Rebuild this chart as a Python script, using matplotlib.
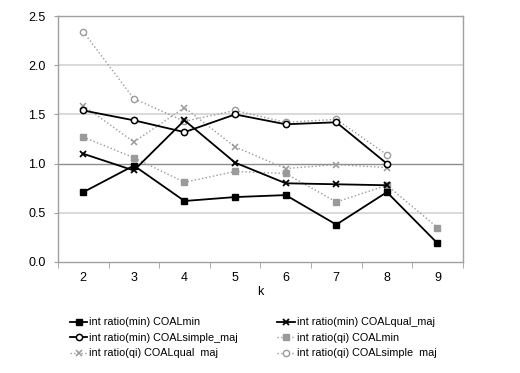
import matplotlib.pyplot as plt
import numpy as np

plt.rcParams['font.family'] = ['Liberation Sans', 'DejaVu Sans']

# --- Data ---
k_values = [2, 3, 4, 5, 6, 7, 8, 9]
min_coalmin = [0.71, 0.98, 0.62, 0.66, 0.68, 0.38, 0.71, 0.19]
min_coalqual_maj = [1.10, 0.93, 1.44, 1.01, 0.80, 0.79, 0.78, np.nan]
min_coalsimple_maj = [1.54, 1.44, 1.32, 1.50, 1.40, 1.42, 1.00, np.nan]
qi_coalmin = [1.27, 1.06, 0.81, 0.92, 0.90, 0.61, 0.78, 0.35]
qi_coalqual_maj = [1.59, 1.22, 1.57, 1.17, 0.95, 0.99, 0.96, np.nan]
qi_coalsimple_maj = [2.34, 1.66, 1.43, 1.54, 1.42, 1.45, 1.09, np.nan]
y_ticks = [0.0, 0.5, 1.0, 1.5, 2.0, 2.5]

fig = plt.figure(figsize=(5.2, 3.73), dpi=100)
ax = fig.add_axes([0.1115, 0.2976, 0.7785, 0.6594])

x = np.arange(len(k_values))
gray = '#9a9a9a'

# gridlines
for yv in y_ticks[1:-1]:
    ax.axhline(yv, color='#8c8c8c' if yv == 1.0 else '#d0d0d0',
               linewidth=1.0 if yv == 1.0 else 1.1, zorder=0)

# --- Series ---
ax.plot(x, min_coalmin, '-', color='black', lw=1.3, marker='s', ms=4.5,
        label='int ratio(min) COALmin', zorder=3)
ax.plot(x, min_coalqual_maj, '-', color='black', lw=1.3, marker='x', ms=5,
        mew=1.3, label='int ratio(min) COALqual_maj', zorder=3)
ax.plot(x, min_coalsimple_maj, '-', color='black', lw=1.3, marker='o', ms=4.5,
        mfc='white', mew=1.1, label='int ratio(min) COALsimple_maj', zorder=3)
ax.plot(x, qi_coalmin, ':', color=gray, lw=1.0, marker='s', ms=4.5,
        label='int ratio(qi) COALmin', zorder=2)
ax.plot(x, qi_coalqual_maj, ':', color=gray, lw=1.0, marker='x', ms=5,
        mew=1.1, label='int ratio(qi) COALqual  maj', zorder=2)
ax.plot(x, qi_coalsimple_maj, ':', color=gray, lw=1.0, marker='o', ms=4.5,
        mfc='white', mew=1.0, label='int ratio(qi) COALsimple  maj', zorder=2)

# --- Formatting ---
ax.set_xlim(-0.5, len(k_values) - 0.5)
ax.set_ylim(0, 2.5)
ax.set_yticks(y_ticks)
ax.set_yticklabels([f'{v:.1f}' for v in y_ticks], fontsize=9)
ax.set_xticks(x)
ax.set_xticklabels([str(v) for v in k_values], fontsize=9)
ax.set_xticks(np.arange(len(k_values) + 1) - 0.5, minor=True)
ax.tick_params(axis='x', which='major', length=0, pad=7)
ax.tick_params(axis='x', which='minor', length=4, color='#a0a0a0')
ax.tick_params(axis='y', length=3, color='#a0a0a0', pad=6)
for s in ax.spines.values():
    s.set_color('#a0a0a0')
    s.set_linewidth(1.0)
ax.set_xlabel('k', fontsize=9, labelpad=2)

# legend reads row by row in the reference
handles, labels = ax.get_legend_handles_labels()
order = [0, 2, 4, 1, 3, 5]
fig.legend([handles[i] for i in order], [labels[i] for i in order],
           loc='upper center', bbox_to_anchor=(0.487, 0.175), ncol=2,
           frameon=False, fontsize=7.8, handlelength=1.6, handletextpad=0.2,
           columnspacing=3.6, labelspacing=0.5)

fig.savefig('out.png', dpi=100)
